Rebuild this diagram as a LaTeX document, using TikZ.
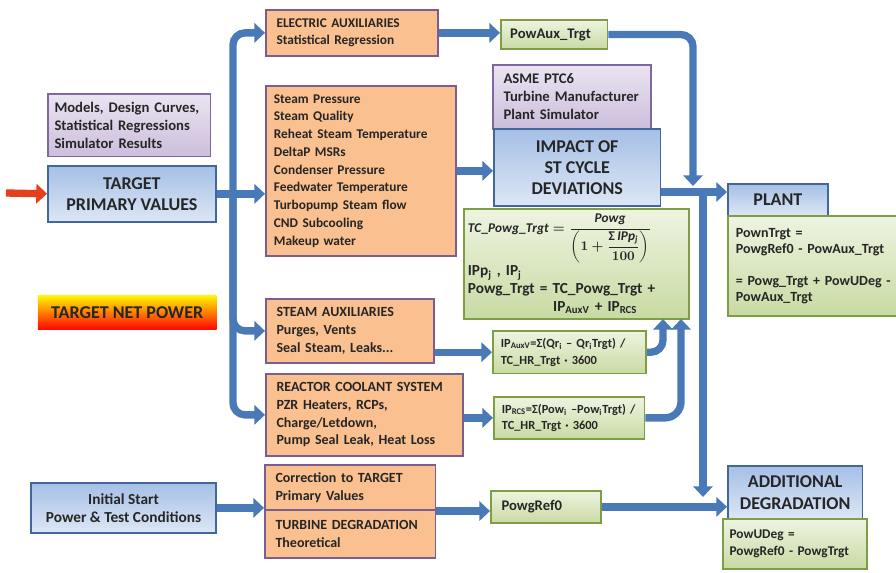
\documentclass[tikz,border=0pt]{standalone}
\usepackage{fontspec,amsmath,amssymb}
\setmainfont{Carlito}
\usetikzlibrary{arrows.meta}

\definecolor{peach}{HTML}{FAC090}
\definecolor{peachedge}{HTML}{7B5E8E}
\definecolor{lavtop}{HTML}{EBE4F1}
\definecolor{lavbot}{HTML}{CCBEDC}
\definecolor{lavedge}{HTML}{7F68A0}
\definecolor{bluetop}{HTML}{A5BFE6}
\definecolor{bluebot}{HTML}{DDE7F5}
\definecolor{blueedge}{HTML}{41679C}
\definecolor{greentop}{HTML}{EEF4E1}
\definecolor{greenbot}{HTML}{C8DAA3}
\definecolor{greenedge}{HTML}{7E9E45}
\definecolor{flowblue}{HTML}{4A79B8}
\definecolor{flowred}{HTML}{E5401E}
\definecolor{ink}{HTML}{262626}

\newcommand{\lowidx}[1]{\textsubscript{#1}}
\newcommand{\fs}[2]{\fontsize{#1}{#2}\selectfont}

\begin{document}
\begin{tikzpicture}[x=0.75pt, y=-0.75pt,
  every node/.style={font=\bfseries\fs{11}{13.5}, text=ink},
  box/.style={draw, line width=1.3pt, anchor=north west, inner xsep=8pt, inner ysep=2pt, align=left},
  orangebox/.style={box, fill=peach, draw=peachedge, font=\bfseries\fs{10.5}{13.3}},
  purplebox/.style={box, top color=lavtop, bottom color=lavbot, draw=lavedge},
  bluebox/.style={box, top color=bluetop, bottom color=bluebot, draw=blueedge, align=center, font=\bfseries\fs{13.5}{16}},
  greenbox/.style={box, top color=greentop, bottom color=greenbot, draw=greenedge, font=\bfseries\fs{10.5}{12.5}},
  flow/.style={draw=flowblue, line width=5.5pt, -{Triangle[length=8pt,width=14.5pt]}}]
  \path[use as bounding box, clip] (0,0) rectangle (896,573);

  % left column
  \node[purplebox, minimum width=122pt, minimum height=47pt, inner xsep=5pt, text width=112pt] (models) at (47,93)
    {Models, Design Curves,\\Statistical Regressions\\Simulator Results};
  \node[bluebox, minimum width=126pt, minimum height=42pt] (tpv) at (47,165) {TARGET\\PRIMARY VALUES};
  \node[box, draw=none, top color=yellow!90!orange, middle color=orange!90!yellow, bottom color=red!95!orange,
    align=center, minimum width=134pt, minimum height=25pt, font=\bfseries\fs{13.5}{15}] (tnp) at (37,295) {TARGET NET POWER};
  \node[bluebox, minimum width=139pt, minimum height=37.5pt, font=\bfseries\fs{11.5}{13.5}] (init) at (30,482)
    {Initial Start\\Power \& Test Conditions};

  % orange column
  \node[orangebox, minimum width=129pt, minimum height=34.5pt, text width=113pt, font=\bfseries\fs{10}{13.3}] (elec) at (265,9)
    {ELECTRIC AUXILIARIES\\Statistical Regression};
  \node[orangebox, minimum width=142.5pt, minimum height=127.5pt, inner xsep=6pt, text width=130.5pt, font=\bfseries\fs{10}{13.3}] (steam) at (265,85)
    {Steam Pressure\\Steam Quality\\Reheat Steam Temperature\\DeltaP MSRs\\Condenser Pressure\\
     Feedwater Temperature\\Turbopump Steam flow\\CND Subcooling\\Makeup water};
  \node[orangebox, minimum width=126pt, minimum height=48pt, text width=110pt] (saux) at (265,298)
    {STEAM AUXILIARIES\\Purges, Vents\\Seal Steam, Leaks...};
  \node[orangebox, minimum width=148pt, minimum height=61.5pt, text width=132pt] (rcs) at (265,373)
    {REACTOR COOLANT SYSTEM\\PZR Heaters, RCPs,\\Charge/Letdown,\\Pump Seal Leak, Heat Loss};
  \node[orangebox, minimum width=128pt, minimum height=34pt, text width=112pt] (corr) at (264,464)
    {Correction to TARGET\\Primary Values};
  \node[orangebox, minimum width=128pt, minimum height=36pt, text width=112pt] (turb) at (264,509)
    {TURBINE DEGRADATION\\Theoretical};

  % middle column
  \node[greenbox, minimum width=80pt, minimum height=22pt, inner xsep=7pt, text width=66pt, font=\bfseries\fs{11}{13}] (powaux) at (500,19)
    {PowAux\_Trgt};
  \node[purplebox, minimum width=118.5pt, minimum height=48pt, text width=102.5pt] (asme) at (492,64)
    {ASME PTC6\\Turbine Manufacturer\\Plant Simulator};
  \node[bluebox, minimum width=125pt, minimum height=58pt] (impact) at (493,128)
    {IMPACT OF\\ST CYCLE\\DEVIATIONS};
  \node[greenbox, minimum width=169pt, minimum height=82.5pt, inner xsep=3pt, text width=163pt, font=\bfseries\fs{11.5}{13.2}] (formula) at (463,208)
    {{\fs{10}{12}\boldmath$\displaystyle \mathit{TC\_Powg\_Trgt}=\frac{\mathit{Powg}}{\biggl(1+\dfrac{\mbox{Σ}\,\mathit{IPp_j}}{100}\biggr)}$}\\[1pt]
     IPp\lowidx{j} , IP\lowidx{j}\\
     Powg\_Trgt = TC\_Powg\_Trgt +\\
     \hspace*{64pt}IP\lowidx{AuxV} + IP\lowidx{RCS}};
  \node[greenbox, minimum width=115pt, minimum height=32pt, inner xsep=6pt, text width=103pt, font=\bfseries\fs{9.3}{12.5}] (ipaux) at (492,330)
    {IP\lowidx{AuxV}=Σ(Qr\lowidx{i} – Qr\lowidx{i}Trgt) /\\TC\_HR\_Trgt · 3600};
  \node[greenbox, minimum width=113pt, minimum height=31.5pt, inner xsep=6pt, text width=101pt, font=\bfseries\fs{9.3}{12.5}] (iprcs) at (493,396)
    {IP\lowidx{RCS}=Σ(Pow\lowidx{i} –Pow\lowidx{i}Trgt) /\\TC\_HR\_Trgt · 3600};
  \node[greenbox, minimum width=82.5pt, minimum height=24pt, inner xsep=8pt, text width=66.5pt, font=\bfseries\fs{11}{13}] (pref) at (490,490)
    {PowgRef0};

  % right column
  \node[bluebox, minimum width=75pt, minimum height=24pt] (plant) at (727,183) {PLANT};
  \node[greenbox, minimum width=134pt, minimum height=75pt, inner xsep=6pt, text width=122pt, font=\bfseries\fs{10.5}{12}] (plantf) at (727,215)
    {PownTrgt =\\PowgRef0 - PowAux\_Trgt\\[12pt]= Powg\_Trgt + PowUDeg -\\PowAux\_Trgt};
  \node[bluebox, minimum width=101pt, minimum height=40pt] (adddeg) at (727,465) {ADDITIONAL\\DEGRADATION};
  \node[greenbox, minimum width=108pt, minimum height=37.5pt, inner xsep=5pt, text width=98pt, font=\bfseries\fs{10}{13}] (udeg) at (722,518)
    {PowUDeg =\\PowgRef0 - PowgTrgt};

  % connectors
  \coordinate (src) at (6,193);
  \coordinate (fork) at (233,193);
  \coordinate (drop) at (693,186);
  \coordinate (hub) at (703,192);
  \coordinate (low) at (703,497);
  \coordinate (upA) at (663,319);
  \coordinate (upB) at (681,319);
  \draw[flow, draw=flowred] (src) -- (tpv.west);
  \draw[flow] (tpv.east) -- (tpv.east -| steam.west);
  \draw[flow, rounded corners=9pt] (fork) |- (elec.west);
  \draw[flow, rounded corners=9pt] (fork) |- (saux.west);
  \draw[flow, rounded corners=9pt] (fork) |- (rcs.west);
  \draw[flow] (elec.east) -- (elec.east -| powaux.west);
  \draw[flow, rounded corners=9pt] (powaux.east) -| (drop);
  \draw[flow] (steam.east) -- (steam.east -| impact.west);
  \draw[flow] (impact.east |- hub) -- (plant.west |- hub);
  \draw[flow] (hub) -- (low);
  \draw[flow] (saux.east |- ipaux.west) -- (ipaux.west);
  \draw[flow] (rcs.east |- iprcs.west) -- (iprcs.west);
  \draw[flow, rounded corners=9pt] (ipaux.east) -| (upA);
  \draw[flow, rounded corners=12pt] (iprcs.east) -| (upB);
  \draw[flow] (init.east) -- (init.east -| corr.south west);
  \draw[flow] (corr.south east) -- (corr.south east -| pref.west);
  \draw[flow] (pref.east) -- (pref.east -| adddeg.west);
\end{tikzpicture}
\end{document}
